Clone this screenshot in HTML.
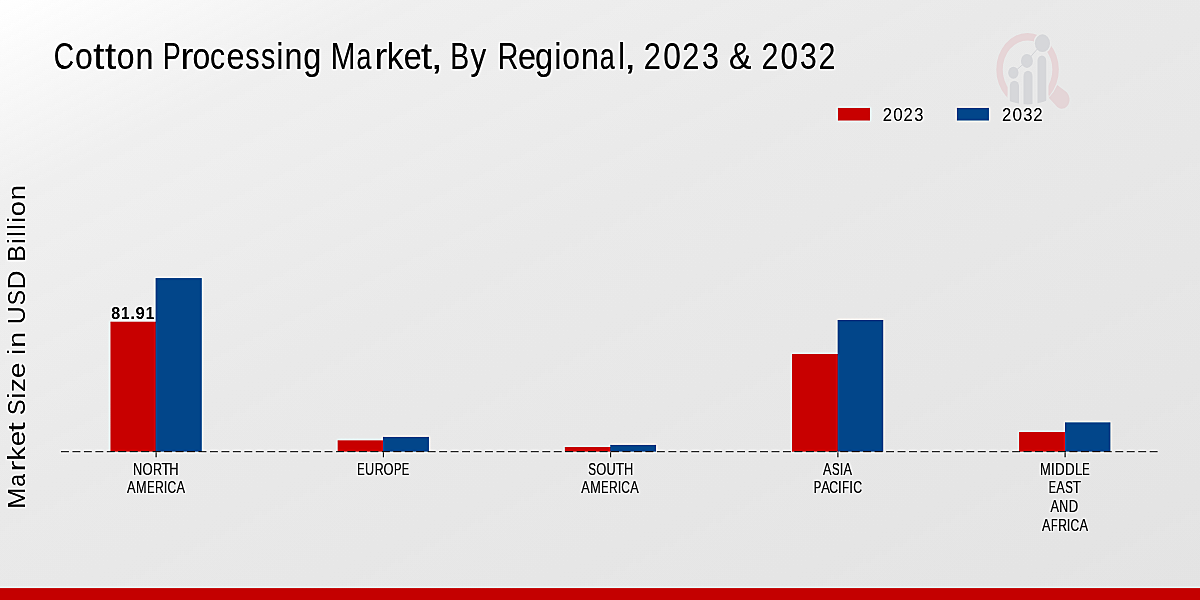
<!DOCTYPE html>
<html><head><meta charset="utf-8">
<style>
html,body{margin:0;padding:0;width:1200px;height:600px;overflow:hidden;background:#e8e8e8;}
svg{display:block;will-change:transform;}
text{font-family:"Liberation Sans",sans-serif;}
</style></head>
<body>
<svg width="1200" height="600" viewBox="0 0 1200 600">
<filter id="sh" filterUnits="userSpaceOnUse" x="-20" y="-20" width="1240" height="640" color-interpolation-filters="sRGB">
<feGaussianBlur in="SourceGraphic" stdDeviation="1.0" result="b"/>
<feComposite in="SourceGraphic" in2="b" operator="arithmetic" k1="0" k2="1.7" k3="-0.7" k4="0"/>
</filter>
<g filter="url(#sh)">
<defs>
<linearGradient id="bg" gradientUnits="userSpaceOnUse" x1="0" y1="0" x2="480" y2="960">
<stop offset="0" stop-color="#ffffff"/>
<stop offset="0.17" stop-color="#efefef"/>
<stop offset="0.42" stop-color="#e9e9e9"/>
<stop offset="1" stop-color="#e3e3e3"/>
</linearGradient>
</defs>
<rect x="-20" y="-20" width="1240" height="640" fill="url(#bg)"/>
<rect x="-20" y="588.2" width="1240" height="40" fill="#c40000"/>
<!-- logo -->
<g id="logo">
<clipPath id="lc"><ellipse cx="1027.55" cy="69.6" rx="42" ry="34.8"/></clipPath>
<path d="M996.30,69.60 a31.25,36.6 0 1,0 62.50,0 a31.25,36.6 0 1,0 -62.50,0 Z M1002.70,69.60 a24.85,29.0 0 1,0 49.70,0 a24.85,29.0 0 1,0 -49.70,0 Z" fill="#e6d5d7" fill-rule="evenodd"/>
<path d="M1057.2,85 L1065.5,91.2 C1070.5,95 1070.8,102.5 1066.8,106.5 C1063.8,109.5 1059.5,109.2 1057,106.7 L1048.8,97.8 A36 40 0 0 0 1057.2,85 Z" fill="#e4d5d7"/>
<rect x="1007.6" y="95" width="40.85" height="15" fill="#e8e8e8"/>
<g clip-path="url(#lc)" fill="#d6d7da" stroke="#e9e9e9" stroke-width="4.4" paint-order="stroke">
<rect x="1009.8" y="80.7" width="9.20" height="39.30" rx="4.60" ry="5.38"/>
<rect x="1023.5" y="70.8" width="9.00" height="49.20" rx="4.50" ry="5.26"/>
<rect x="1037.5" y="55.4" width="8.75" height="64.60" rx="4.38" ry="5.12"/>
</g>
<g fill="#d6d7da" stroke="#e9e9e9" stroke-width="3" paint-order="stroke">
<ellipse cx="1013.35" cy="72.7" rx="5.15" ry="6.0"/>
<ellipse cx="1026.95" cy="60.95" rx="5.95" ry="6.95"/>
<ellipse cx="1042.45" cy="43.15" rx="7.55" ry="8.85"/>
</g>
<polyline points="1013.35,72.7 1026.95,60.95 1042.45,43.15" fill="none" stroke="#d6d7da" stroke-width="1.0"/>
</g>
<rect x="837.9" y="107.9" width="32" height="12.6" fill="#c80000"/>
<rect x="956.9" y="107.9" width="32" height="12.6" fill="#02468a"/>
<rect x="110.50" y="321.70" width="46.10" height="129.90" fill="#c80000"/>
<rect x="155.60" y="278.10" width="46.15" height="173.50" fill="#02468a"/>
<rect x="337.67" y="440.40" width="46.28" height="11.20" fill="#c80000"/>
<rect x="382.95" y="436.90" width="45.96" height="14.70" fill="#02468a"/>
<rect x="564.84" y="447.00" width="46.46" height="4.60" fill="#c80000"/>
<rect x="610.30" y="444.90" width="45.77" height="6.70" fill="#02468a"/>
<rect x="792.01" y="354.00" width="46.64" height="97.60" fill="#c80000"/>
<rect x="837.65" y="320.00" width="45.58" height="131.60" fill="#02468a"/>
<rect x="1019.18" y="432.10" width="46.82" height="19.50" fill="#c80000"/>
<rect x="1065.00" y="422.40" width="45.39" height="29.20" fill="#02468a"/>
<line x1="61" y1="451.65" x2="1158.5" y2="451.65" stroke="#555555" stroke-width="1.4" stroke-dasharray="7.9 3.56"/>
<clipPath id="bc">
<rect x="110.50" y="321.70" width="46.10" height="129.90"/>
<rect x="155.60" y="278.10" width="46.15" height="173.50"/>
<rect x="337.67" y="440.40" width="46.28" height="11.20"/>
<rect x="382.95" y="436.90" width="45.96" height="14.70"/>
<rect x="564.84" y="447.00" width="46.46" height="4.60"/>
<rect x="610.30" y="444.90" width="45.77" height="6.70"/>
<rect x="792.01" y="354.00" width="46.64" height="97.60"/>
<rect x="837.65" y="320.00" width="45.58" height="131.60"/>
<rect x="1019.18" y="432.10" width="46.82" height="19.50"/>
<rect x="1065.00" y="422.40" width="45.39" height="29.20"/>
</clipPath>
<line x1="61" y1="451.65" x2="1158.5" y2="451.65" stroke="#000000" stroke-width="1.4" stroke-dasharray="7.9 3.56" clip-path="url(#bc)"/>
<g stroke="#222" stroke-width="1.1">
<line x1="156.10" y1="452.2" x2="156.10" y2="457.2"/>
<line x1="383.40" y1="452.2" x2="383.40" y2="457.2"/>
<line x1="610.60" y1="452.2" x2="610.60" y2="457.2"/>
<line x1="837.90" y1="452.2" x2="837.90" y2="457.2"/>
<line x1="1065.10" y1="452.2" x2="1065.10" y2="457.2"/>
</g>
<g id="t0" font-size="36.5" stroke="#000" stroke-width="0.15"><text x="53.86" y="68.7" textLength="20.22" lengthAdjust="spacingAndGlyphs">C</text><text x="74.92" y="68.7" textLength="17.79" lengthAdjust="spacingAndGlyphs">o</text><text x="93.16" y="68.7" textLength="11.08" lengthAdjust="spacingAndGlyphs">t</text><text x="104.91" y="68.7" textLength="11.08" lengthAdjust="spacingAndGlyphs">t</text><text x="116.78" y="68.7" textLength="17.79" lengthAdjust="spacingAndGlyphs">o</text><text x="135.45" y="68.7" textLength="18.00" lengthAdjust="spacingAndGlyphs">n</text></g>
<g id="t1" font-size="36.5" stroke="#000" stroke-width="0.15"><text x="163.12" y="68.7" textLength="17.68" lengthAdjust="spacingAndGlyphs">P</text><text x="180.57" y="68.7" textLength="12.77" lengthAdjust="spacingAndGlyphs">r</text><text x="192.40" y="68.7" textLength="17.73" lengthAdjust="spacingAndGlyphs">o</text><text x="210.10" y="68.7" textLength="15.00" lengthAdjust="spacingAndGlyphs">c</text><text x="226.43" y="68.7" textLength="18.00" lengthAdjust="spacingAndGlyphs">e</text><text x="245.36" y="68.7" textLength="14.31" lengthAdjust="spacingAndGlyphs">s</text><text x="260.92" y="68.7" textLength="14.31" lengthAdjust="spacingAndGlyphs">s</text><text x="276.43" y="68.7" textLength="6.78" lengthAdjust="spacingAndGlyphs">i</text><text x="284.60" y="68.7" textLength="17.93" lengthAdjust="spacingAndGlyphs">n</text><text x="303.18" y="68.7" textLength="18.07" lengthAdjust="spacingAndGlyphs">g</text></g>
<g id="t2" font-size="36.5" stroke="#000" stroke-width="0.15"><text x="330.86" y="68.7" textLength="24.70" lengthAdjust="spacingAndGlyphs">M</text><text x="356.59" y="68.7" textLength="14.87" lengthAdjust="spacingAndGlyphs">a</text><text x="374.40" y="68.7" textLength="12.69" lengthAdjust="spacingAndGlyphs">r</text><text x="386.82" y="68.7" textLength="16.64" lengthAdjust="spacingAndGlyphs">k</text><text x="403.86" y="68.7" textLength="17.90" lengthAdjust="spacingAndGlyphs">e</text><text x="420.99" y="68.7" textLength="10.98" lengthAdjust="spacingAndGlyphs">t</text><text x="430.73" y="68.7" textLength="12.19" lengthAdjust="spacingAndGlyphs">,</text></g>
<g id="t3" font-size="36.5" stroke="#000" stroke-width="0.15"><text x="450.27" y="68.7" textLength="18.88" lengthAdjust="spacingAndGlyphs">B</text><text x="470.38" y="68.7" textLength="15.72" lengthAdjust="spacingAndGlyphs">y</text></g>
<g id="t4" font-size="36.5" stroke="#000" stroke-width="0.15"><text x="497.65" y="68.7" textLength="20.62" lengthAdjust="spacingAndGlyphs">R</text><text x="518.05" y="68.7" textLength="17.99" lengthAdjust="spacingAndGlyphs">e</text><text x="535.07" y="68.7" textLength="18.06" lengthAdjust="spacingAndGlyphs">g</text><text x="554.51" y="68.7" textLength="6.78" lengthAdjust="spacingAndGlyphs">i</text><text x="562.34" y="68.7" textLength="17.71" lengthAdjust="spacingAndGlyphs">o</text><text x="580.94" y="68.7" textLength="17.92" lengthAdjust="spacingAndGlyphs">n</text><text x="599.85" y="68.7" textLength="14.95" lengthAdjust="spacingAndGlyphs">a</text><text x="618.28" y="68.7" textLength="6.78" lengthAdjust="spacingAndGlyphs">l</text><text x="624.09" y="68.7" textLength="12.25" lengthAdjust="spacingAndGlyphs">,</text></g>
<g id="t5" font-size="36.5" stroke="#000" stroke-width="0.15"><text x="643.83" y="68.7" textLength="17.05" lengthAdjust="spacingAndGlyphs">2</text><text x="663.16" y="68.7" textLength="17.66" lengthAdjust="spacingAndGlyphs">0</text><text x="682.25" y="68.7" textLength="17.05" lengthAdjust="spacingAndGlyphs">2</text><text x="701.89" y="68.7" textLength="16.90" lengthAdjust="spacingAndGlyphs">3</text></g>
<g id="t6" font-size="36.5" stroke="#000" stroke-width="0.15"><text x="728.95" y="68.7" textLength="22.40" lengthAdjust="spacingAndGlyphs">&amp;</text></g>
<g id="t7" font-size="36.5" stroke="#000" stroke-width="0.15"><text x="761.44" y="68.7" textLength="16.88" lengthAdjust="spacingAndGlyphs">2</text><text x="780.59" y="68.7" textLength="17.49" lengthAdjust="spacingAndGlyphs">0</text><text x="799.91" y="68.7" textLength="16.74" lengthAdjust="spacingAndGlyphs">3</text><text x="818.51" y="68.7" textLength="16.88" lengthAdjust="spacingAndGlyphs">2</text></g>
<g id="l1" font-size="19.2"><text x="882.84" y="121.1" textLength="9.22" lengthAdjust="spacingAndGlyphs">2</text><text x="893.26" y="121.1" textLength="9.50" lengthAdjust="spacingAndGlyphs">0</text><text x="903.57" y="121.1" textLength="9.22" lengthAdjust="spacingAndGlyphs">2</text><text x="914.15" y="121.1" textLength="9.16" lengthAdjust="spacingAndGlyphs">3</text></g>
<g id="l2" font-size="19.2"><text x="1002.03" y="121.1" textLength="9.28" lengthAdjust="spacingAndGlyphs">2</text><text x="1012.53" y="121.1" textLength="9.57" lengthAdjust="spacingAndGlyphs">0</text><text x="1023.13" y="121.1" textLength="9.22" lengthAdjust="spacingAndGlyphs">3</text><text x="1033.35" y="121.1" textLength="9.28" lengthAdjust="spacingAndGlyphs">2</text></g>
<g id="d1" font-size="16" font-weight="bold"><text x="111.20" y="318.7" textLength="8.96" lengthAdjust="spacingAndGlyphs">8</text><text x="121.11" y="318.7" textLength="8.45" lengthAdjust="spacingAndGlyphs">1</text><text x="130.31" y="318.7" textLength="4.92" lengthAdjust="spacingAndGlyphs">.</text><text x="135.62" y="318.7" textLength="9.31" lengthAdjust="spacingAndGlyphs">9</text><text x="145.73" y="318.7" textLength="8.45" lengthAdjust="spacingAndGlyphs">1</text></g>
<g id="n1" font-size="16" fill="#111" stroke="#111" stroke-width="0.15"><text x="132.90" y="474.8" textLength="9.25" lengthAdjust="spacingAndGlyphs">N</text><text x="142.48" y="474.8" textLength="10.11" lengthAdjust="spacingAndGlyphs">O</text><text x="153.02" y="474.8" textLength="9.02" lengthAdjust="spacingAndGlyphs">R</text><text x="161.40" y="474.8" textLength="8.77" lengthAdjust="spacingAndGlyphs">T</text><text x="169.14" y="474.8" textLength="9.32" lengthAdjust="spacingAndGlyphs">H</text></g>
<g id="n2" font-size="16" fill="#111" stroke="#111" stroke-width="0.15"><text x="127.10" y="493.4" textLength="8.54" lengthAdjust="spacingAndGlyphs">A</text><text x="136.00" y="493.4" textLength="10.54" lengthAdjust="spacingAndGlyphs">M</text><text x="147.14" y="493.4" textLength="7.26" lengthAdjust="spacingAndGlyphs">E</text><text x="155.10" y="493.4" textLength="8.79" lengthAdjust="spacingAndGlyphs">R</text><text x="163.68" y="493.4" textLength="3.62" lengthAdjust="spacingAndGlyphs">I</text><text x="167.42" y="493.4" textLength="8.72" lengthAdjust="spacingAndGlyphs">C</text><text x="176.40" y="493.4" textLength="8.54" lengthAdjust="spacingAndGlyphs">A</text></g>
<g id="e1" font-size="16" fill="#111" stroke="#111" stroke-width="0.15"><text x="357.14" y="474.8" textLength="7.37" lengthAdjust="spacingAndGlyphs">E</text><text x="365.03" y="474.8" textLength="9.15" lengthAdjust="spacingAndGlyphs">U</text><text x="374.69" y="474.8" textLength="8.92" lengthAdjust="spacingAndGlyphs">R</text><text x="383.46" y="474.8" textLength="10.00" lengthAdjust="spacingAndGlyphs">O</text><text x="393.97" y="474.8" textLength="7.54" lengthAdjust="spacingAndGlyphs">P</text><text x="401.79" y="474.8" textLength="7.37" lengthAdjust="spacingAndGlyphs">E</text></g>
<g id="s1" font-size="16" fill="#111" stroke="#111" stroke-width="0.15"><text x="588.15" y="474.8" textLength="7.80" lengthAdjust="spacingAndGlyphs">S</text><text x="596.19" y="474.8" textLength="10.05" lengthAdjust="spacingAndGlyphs">O</text><text x="606.47" y="474.8" textLength="9.20" lengthAdjust="spacingAndGlyphs">U</text><text x="615.46" y="474.8" textLength="8.71" lengthAdjust="spacingAndGlyphs">T</text><text x="624.09" y="474.8" textLength="9.25" lengthAdjust="spacingAndGlyphs">H</text></g>
<g id="s2" font-size="16" fill="#111" stroke="#111" stroke-width="0.15"><text x="581.30" y="493.4" textLength="8.48" lengthAdjust="spacingAndGlyphs">A</text><text x="590.14" y="493.4" textLength="10.47" lengthAdjust="spacingAndGlyphs">M</text><text x="601.20" y="493.4" textLength="7.21" lengthAdjust="spacingAndGlyphs">E</text><text x="609.10" y="493.4" textLength="8.73" lengthAdjust="spacingAndGlyphs">R</text><text x="617.63" y="493.4" textLength="3.60" lengthAdjust="spacingAndGlyphs">I</text><text x="621.34" y="493.4" textLength="8.66" lengthAdjust="spacingAndGlyphs">C</text><text x="630.26" y="493.4" textLength="8.48" lengthAdjust="spacingAndGlyphs">A</text></g>
<g id="a1" font-size="16" fill="#111" stroke="#111" stroke-width="0.15"><text x="823.10" y="474.8" textLength="8.46" lengthAdjust="spacingAndGlyphs">A</text><text x="831.94" y="474.8" textLength="7.57" lengthAdjust="spacingAndGlyphs">S</text><text x="839.70" y="474.8" textLength="3.59" lengthAdjust="spacingAndGlyphs">I</text><text x="843.48" y="474.8" textLength="8.46" lengthAdjust="spacingAndGlyphs">A</text></g>
<g id="a2" font-size="16" fill="#111" stroke="#111" stroke-width="0.15"><text x="813.71" y="493.4" textLength="7.56" lengthAdjust="spacingAndGlyphs">P</text><text x="821.24" y="493.4" textLength="8.69" lengthAdjust="spacingAndGlyphs">A</text><text x="829.20" y="493.4" textLength="8.87" lengthAdjust="spacingAndGlyphs">C</text><text x="838.06" y="493.4" textLength="3.68" lengthAdjust="spacingAndGlyphs">I</text><text x="842.27" y="493.4" textLength="6.71" lengthAdjust="spacingAndGlyphs">F</text><text x="849.35" y="493.4" textLength="3.68" lengthAdjust="spacingAndGlyphs">I</text><text x="853.15" y="493.4" textLength="8.87" lengthAdjust="spacingAndGlyphs">C</text></g>
<g id="m1" font-size="16" fill="#111" stroke="#111" stroke-width="0.15"><text x="1040.00" y="474.8" textLength="10.70" lengthAdjust="spacingAndGlyphs">M</text><text x="1050.93" y="474.8" textLength="3.68" lengthAdjust="spacingAndGlyphs">I</text><text x="1054.95" y="474.8" textLength="9.65" lengthAdjust="spacingAndGlyphs">D</text><text x="1064.92" y="474.8" textLength="9.65" lengthAdjust="spacingAndGlyphs">D</text><text x="1074.92" y="474.8" textLength="7.28" lengthAdjust="spacingAndGlyphs">L</text><text x="1082.29" y="474.8" textLength="7.37" lengthAdjust="spacingAndGlyphs">E</text></g>
<g id="m2" font-size="16" fill="#111" stroke="#111" stroke-width="0.15"><text x="1048.66" y="493.4" textLength="7.21" lengthAdjust="spacingAndGlyphs">E</text><text x="1056.34" y="493.4" textLength="8.48" lengthAdjust="spacingAndGlyphs">A</text><text x="1065.21" y="493.4" textLength="7.59" lengthAdjust="spacingAndGlyphs">S</text><text x="1072.56" y="493.4" textLength="8.48" lengthAdjust="spacingAndGlyphs">T</text></g>
<g id="m3" font-size="16" fill="#111" stroke="#111" stroke-width="0.15"><text x="1050.50" y="512.0" textLength="8.46" lengthAdjust="spacingAndGlyphs">A</text><text x="1059.34" y="512.0" textLength="8.92" lengthAdjust="spacingAndGlyphs">N</text><text x="1068.74" y="512.0" textLength="9.42" lengthAdjust="spacingAndGlyphs">D</text></g>
<g id="m4" font-size="16" fill="#111" stroke="#111" stroke-width="0.15"><text x="1042.00" y="530.6" textLength="8.52" lengthAdjust="spacingAndGlyphs">A</text><text x="1051.03" y="530.6" textLength="6.58" lengthAdjust="spacingAndGlyphs">F</text><text x="1058.25" y="530.6" textLength="8.77" lengthAdjust="spacingAndGlyphs">R</text><text x="1066.82" y="530.6" textLength="3.61" lengthAdjust="spacingAndGlyphs">I</text><text x="1070.55" y="530.6" textLength="8.70" lengthAdjust="spacingAndGlyphs">C</text><text x="1079.51" y="530.6" textLength="8.52" lengthAdjust="spacingAndGlyphs">A</text></g>
<g id="y0" font-size="23" transform="translate(24.8,506.7) rotate(-90)"><text x="-2.07" y="0" textLength="21.14" lengthAdjust="spacingAndGlyphs">M</text><text x="19.90" y="0" textLength="12.81" lengthAdjust="spacingAndGlyphs">a</text><text x="35.22" y="0" textLength="10.88" lengthAdjust="spacingAndGlyphs">r</text><text x="45.96" y="0" textLength="14.15" lengthAdjust="spacingAndGlyphs">k</text><text x="60.39" y="0" textLength="15.39" lengthAdjust="spacingAndGlyphs">e</text><text x="75.05" y="0" textLength="9.46" lengthAdjust="spacingAndGlyphs">t</text></g>
<g id="y1" font-size="23" transform="translate(24.8,414) rotate(-90)"><text x="-1.14" y="0" textLength="15.59" lengthAdjust="spacingAndGlyphs">S</text><text x="15.57" y="0" textLength="5.82" lengthAdjust="spacingAndGlyphs">i</text><text x="22.03" y="0" textLength="13.91" lengthAdjust="spacingAndGlyphs">z</text><text x="35.84" y="0" textLength="15.74" lengthAdjust="spacingAndGlyphs">e</text></g>
<g id="y2" font-size="23" transform="translate(24.8,353) rotate(-90)"><text x="-1.73" y="0" textLength="5.89" lengthAdjust="spacingAndGlyphs">i</text><text x="5.36" y="0" textLength="15.85" lengthAdjust="spacingAndGlyphs">n</text></g>
<g id="y3" font-size="23" transform="translate(24.8,322.3) rotate(-90)"><text x="-1.89" y="0" textLength="17.95" lengthAdjust="spacingAndGlyphs">U</text><text x="16.95" y="0" textLength="15.22" lengthAdjust="spacingAndGlyphs">S</text><text x="32.90" y="0" textLength="18.97" lengthAdjust="spacingAndGlyphs">D</text></g>
<g id="y4" font-size="23" transform="translate(24.8,259.7) rotate(-90)"><text x="-2.01" y="0" textLength="16.47" lengthAdjust="spacingAndGlyphs">B</text><text x="15.69" y="0" textLength="5.69" lengthAdjust="spacingAndGlyphs">i</text><text x="22.86" y="0" textLength="5.36" lengthAdjust="spacingAndGlyphs">l</text><text x="29.94" y="0" textLength="5.36" lengthAdjust="spacingAndGlyphs">l</text><text x="36.91" y="0" textLength="5.69" lengthAdjust="spacingAndGlyphs">i</text><text x="43.42" y="0" textLength="15.10" lengthAdjust="spacingAndGlyphs">o</text><text x="59.34" y="0" textLength="15.31" lengthAdjust="spacingAndGlyphs">n</text></g>
</g>
</svg>
</body></html>
